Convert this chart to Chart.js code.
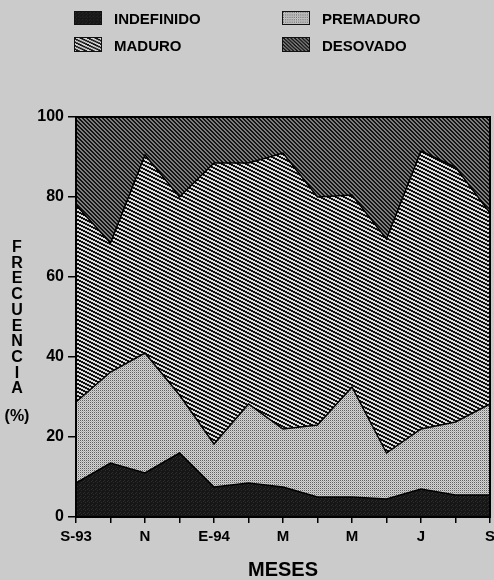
<!DOCTYPE html>
<html><head><meta charset="utf-8">
<script src="https://cdn.jsdelivr.net/npm/chart.js@4/dist/chart.umd.min.js"></script>
<style>
html,body{margin:0;padding:0;background:#cbcbcb;}
#wrap{position:relative;width:494px;height:580px;font-family:"Liberation Sans",Arial,sans-serif;font-weight:bold;color:#000;}
#c{position:absolute;left:0;top:0;}
.leg{position:absolute;font-size:15px;line-height:15px;white-space:nowrap;}
.sw{position:absolute;width:28px;height:14px;box-sizing:border-box;border:1px solid #111;}
#ytitle{position:absolute;left:0;top:239px;width:34px;text-align:center;font-size:16px;line-height:15.7px;}
#ypct{position:absolute;left:0;top:408px;width:34px;text-align:center;font-size:16px;line-height:15px;}
</style></head>
<body>
<div id="wrap">
<canvas id="c" width="494" height="580"></canvas>
<canvas class="sw" id="sw0" width="28" height="14" style="left:74px;top:11px;"></canvas>
<div class="leg" style="left:114px;top:11px;">INDEFINIDO</div>
<canvas class="sw" id="sw1" width="28" height="14" style="left:282px;top:11px;"></canvas>
<div class="leg" style="left:322px;top:11px;">PREMADURO</div>
<canvas class="sw" id="sw2" width="28" height="15" style="left:74px;top:37px;height:15px;"></canvas>
<div class="leg" style="left:114px;top:38px;">MADURO</div>
<canvas class="sw" id="sw3" width="28" height="15" style="left:282px;top:37px;height:15px;"></canvas>
<div class="leg" style="left:322px;top:38px;">DESOVADO</div>
<div id="ytitle">F<br>R<br>E<br>C<br>U<br>E<br>N<br>C<br>I<br>A</div>
<div id="ypct">(%)</div>
</div>
<script>
const meses = ['S-93','O','N','D','E-94','F','M','A','M','J','J','A','S'];
const nombres = ['INDEFINIDO','PREMADURO','MADURO','DESOVADO'];
const indefinido = [8.5,13.5,11,16,7.5,8.5,7.5,5,5,4.5,7,5.5,5.5];
const premaduro = [20.25,22.75,30,14.5,10.75,19.75,14.5,18,27.5,11.5,15,18.25,22.75];
const maduro = [49.25,32.25,49.5,49.5,70.25,60.25,69,57,48,53.5,69.5,63.75,47.75];
const desovado = [22,31.5,9.5,20,11.5,11.5,9,20,19.5,30.5,8.5,12.5,24];
const yTicks = [0,20,40,60,80,100];

function tile(w,h,fn){
  const cv=document.createElement('canvas');cv.width=w;cv.height=h;
  const cx=cv.getContext('2d');const img=cx.createImageData(w,h);
  for(let y=0;y<h;y++)for(let x=0;x<w;x++){const v=fn(x,y);const i=(y*w+x)*4;img.data[i]=v;img.data[i+1]=v;img.data[i+2]=v;img.data[i+3]=255;}
  cx.putImageData(img,0,0);return cv;
}
const tiles=[
  tile(4,4,(x,y)=>((x+2*y)%5===0)?45:22),
  tile(2,2,(x,y)=>(x===0&&y===0)?95:(x===1&&y===1)?175:212),
  tile(8,4,(x,y)=>{const t=((y*2 - x)%8+8)%8; return t<4?15:220;}),
  tile(4,4,(x,y)=>{const t=((x - y)%4+4)%4; return t<2?20:125;})
];
const ctx=document.getElementById('c').getContext('2d');
const pats=tiles.map(t=>ctx.createPattern(t,'repeat'));
['sw0','sw1','sw2','sw3'].forEach((id,i)=>{const e=document.getElementById(id);const c2=e.getContext('2d');c2.fillStyle=c2.createPattern(tiles[i],'repeat');c2.fillRect(0,0,e.width,e.height);});

const frame={id:'frame',afterDatasetsDraw(chart){const {ctx,chartArea:a}=chart;ctx.save();ctx.strokeStyle='#000';ctx.lineWidth=2;ctx.strokeRect(a.left,a.top,a.right-a.left,a.bottom-a.top);ctx.restore();}};
const series=[indefinido,premaduro,maduro,desovado];
new Chart(ctx,{
  type:'line',
  data:{labels:meses,datasets:series.map((d,i)=>({label:nombres[i],data:d,backgroundColor:pats[i],borderColor:'#000',borderWidth:1.5,pointRadius:0,tension:0,fill:i===0?'origin':'-1'}))},
  options:{
    responsive:false,animation:false,
    layout:{padding:{left:0,right:4,top:117,bottom:0}},
    plugins:{legend:{display:false},tooltip:{enabled:false}},
    scales:{
      x:{
        grid:{drawOnChartArea:false,drawTicks:true,tickLength:6,color:'#000',lineWidth:1.5},
        border:{display:true,color:'#000',width:2},
        ticks:{autoSkip:false,maxRotation:0,padding:5,color:'#000',font:{family:'"Liberation Sans", Arial, sans-serif',weight:'bold',size:15},callback:function(v,i){return i%2===0?meses[i]:'';}},
        title:{display:true,text:'MESES',color:'#000',font:{family:'"Liberation Sans", Arial, sans-serif',weight:'bold',size:20,lineHeight:1},padding:{top:0,bottom:0}},
        afterFit(s){s.height=63;s.paddingLeft=0;s.paddingRight=0;}
      },
      y:{
        stacked:true,min:0,max:100,
        afterBuildTicks(s){s.ticks=yTicks.map(v=>({value:v}));},
        grid:{drawOnChartArea:false,drawTicks:true,tickLength:8,color:'#000',lineWidth:1.5},
        border:{display:true,color:'#000',width:2},
        ticks:{padding:4,color:'#000',font:{family:'"Liberation Sans", Arial, sans-serif',weight:'bold',size:16}},
        afterFit(s){s.width=76;s.paddingTop=0;s.paddingBottom=0;}
      }
    }
  },
  plugins:[frame]
});
</script>
</body></html>
